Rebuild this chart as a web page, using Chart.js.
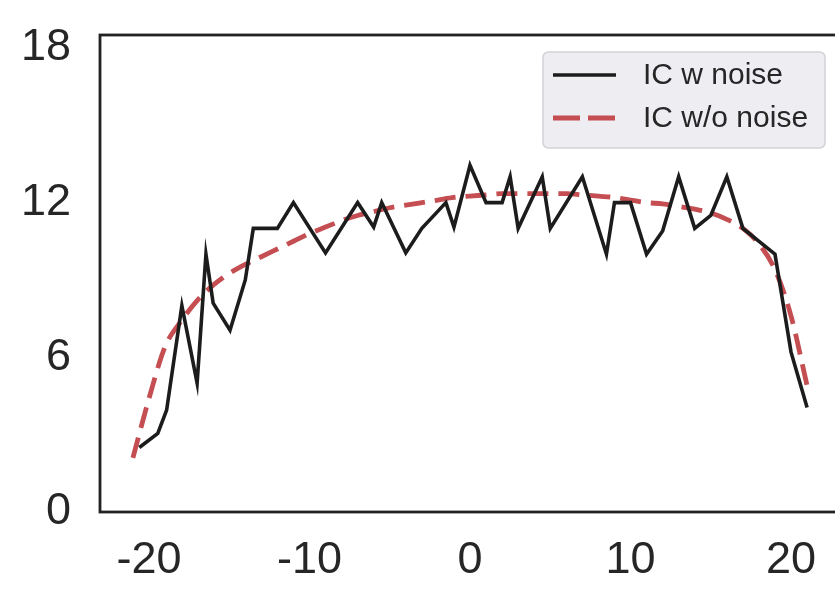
<!DOCTYPE html>
<html>
<head>
<meta charset="utf-8">
<script src="https://cdn.jsdelivr.net/npm/chart.js@4/dist/chart.umd.min.js"></script>
<style>
  html, body { margin: 0; padding: 0; background: #ffffff; overflow: hidden; }
  #wrap { position: relative; width: 845px; height: 592px; }
</style>
</head>
<body>
<div id="wrap"><canvas id="c"></canvas></div>
<script>
// ---- data ----
const noiseX = [-20.6, -19.45, -18.9, -17.95, -17, -16.45, -16, -14.95, -14, -13.5, -12, -11, -9, -7, -6, -5.5, -4, -3, -1.5, -1, 0, 1, 2, 2.5, 3, 4.5, 5, 7, 8.5, 9, 10, 11, 12, 13, 14, 15, 16, 17, 19, 20, 21];
const noiseY = [2.5, 3.05, 3.95, 8.0, 5.0, 10.0, 8.1, 7.05, 9.0, 11.0, 11.0, 12.0, 10.05, 12.0, 11.05, 12.0, 10.05, 11.0, 12.0, 11.05, 13.45, 12.0, 12.0, 13.0, 11.0, 13.0, 11.0, 13.0, 10.0, 12.0, 12.0, 10.0, 10.9, 13.0, 11.0, 11.5, 13.0, 11.0, 10.0, 6.2, 4.05];
const smoothX = [-21, -20, -19, -18, -17, -16, -15, -14, -13, -12, -11, -10, -9, -8, -7, -6, -5, -4, -3, -2, -1, 0, 1, 2, 3, 4, 5, 6, 7, 8, 9, 10, 11, 12, 13, 14, 15, 16, 17, 18, 19, 20, 21];
const smoothY = [2.1, 4.4, 6.4, 7.4, 8.2, 8.8, 9.25, 9.6, 9.9, 10.2, 10.5, 10.8, 11.05, 11.3, 11.5, 11.65, 11.8, 11.9, 12.0, 12.1, 12.2, 12.25, 12.3, 12.35, 12.35, 12.35, 12.35, 12.35, 12.3, 12.25, 12.2, 12.1, 12.0, 11.95, 11.85, 11.75, 11.6, 11.35, 11.0, 10.4, 9.4, 7.6, 4.9];
const seriesLabels = ['IC w noise', 'IC w/o noise'];
const xTicks = [-20, -10, 0, 10, 20];
const yTicks = [0, 6, 12, 18];

const FONT = '"Liberation Sans", Arial, Helvetica, sans-serif';
const TEXT = '#262626';

const framePlugin = {
  id: 'frameAndLegend',
  afterDatasetsDraw(chart) {
    const ctx = chart.ctx;
    const a = chart.chartArea;
    ctx.save();
    ctx.strokeStyle = '#222222';
    ctx.lineWidth = 2.8;
    ctx.setLineDash([]);
    ctx.strokeRect(a.left, a.top, a.right - a.left, a.bottom - a.top);

    // legend box
    const bx = 543, by = 52, bw = 282, bh = 96, r = 6;
    ctx.beginPath();
    ctx.moveTo(bx + r, by);
    ctx.lineTo(bx + bw - r, by);
    ctx.quadraticCurveTo(bx + bw, by, bx + bw, by + r);
    ctx.lineTo(bx + bw, by + bh - r);
    ctx.quadraticCurveTo(bx + bw, by + bh, bx + bw - r, by + bh);
    ctx.lineTo(bx + r, by + bh);
    ctx.quadraticCurveTo(bx, by + bh, bx, by + bh - r);
    ctx.lineTo(bx, by + r);
    ctx.quadraticCurveTo(bx, by, bx + r, by);
    ctx.closePath();
    ctx.fillStyle = '#ededf2';
    ctx.fill();
    ctx.strokeStyle = '#d2d2d8';
    ctx.lineWidth = 1.5;
    ctx.stroke();

    const rows = [75, 118];
    const dashes = [[], [27, 8]];
    chart.data.datasets.forEach((ds, i) => {
      const y = rows[i];
      ctx.beginPath();
      ctx.strokeStyle = ds.borderColor;
      ctx.lineWidth = ds.borderWidth;
      ctx.setLineDash(dashes[i]);
      ctx.lineCap = 'butt';
      ctx.moveTo(553, y);
      ctx.lineTo(616, y);
      ctx.stroke();
      ctx.setLineDash([]);
      ctx.fillStyle = TEXT;
      ctx.font = '30px ' + FONT;
      ctx.textAlign = 'left';
      ctx.textBaseline = 'middle';
      ctx.fillText(ds.label, 643, y + 1);
    });
    ctx.restore();
  }
};

new Chart(document.getElementById('c'), {
  type: 'line',
  data: {
    datasets: [
      {
        label: seriesLabels[0],
        data: noiseX.map((x, i) => ({ x: x, y: noiseY[i] })),
        borderColor: '#1c1c1c',
        borderWidth: 3.6,
        pointRadius: 0,
        tension: 0,
        fill: false
      },
      {
        label: seriesLabels[1],
        data: smoothX.map((x, i) => ({ x: x, y: smoothY[i] })),
        borderColor: '#c44e52',
        borderWidth: 4.8,
        borderDash: [21, 10],
        pointRadius: 0,
        cubicInterpolationMode: 'monotone',
        fill: false
      }
    ]
  },
  options: {
    responsive: true,
    maintainAspectRatio: false,
    animation: false,
    devicePixelRatio: 1,
    layout: { padding: { left: 0, top: 35, right: 5, bottom: 0 } },
    plugins: { legend: { display: false }, tooltip: { enabled: false } },
    scales: {
      x: {
        type: 'linear',
        min: -23.05,
        max: 23.05,
        afterBuildTicks: s => { s.ticks = xTicks.map(v => ({ value: v })); },
        afterFit: s => { s.height = 80; s.paddingLeft = 0; s.paddingRight = 0; },
        grid: { display: false, drawTicks: false },
        border: { display: false },
        ticks: {
          color: TEXT,
          padding: 22,
          maxRotation: 0,
          font: { size: 45, family: FONT },
          callback: v => String(v)
        }
      },
      y: {
        type: 'linear',
        min: 0,
        max: 18.5,
        afterBuildTicks: s => { s.ticks = yTicks.map(v => ({ value: v })); },
        afterFit: s => { s.width = 100; s.paddingTop = 0; s.paddingBottom = 0; },
        grid: { display: false, drawTicks: false },
        border: { display: false },
        ticks: {
          color: TEXT,
          padding: 29,
          font: { size: 45, family: FONT },
          callback: v => String(v)
        }
      }
    }
  },
  plugins: [framePlugin]
});
</script>
</body>
</html>
